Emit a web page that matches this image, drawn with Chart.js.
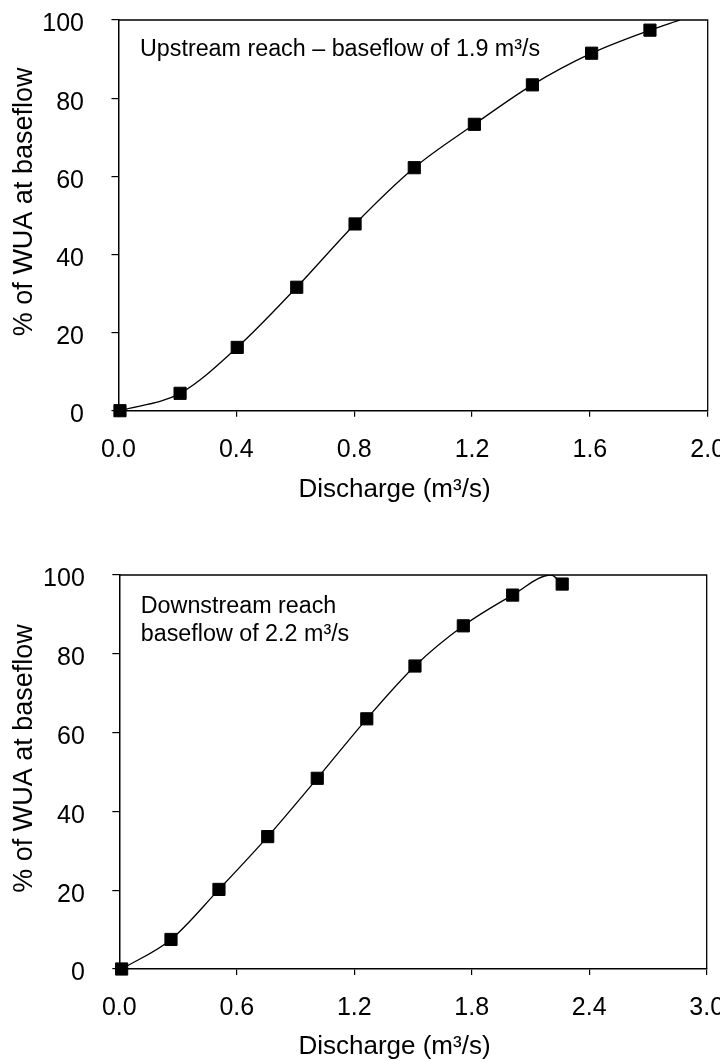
<!DOCTYPE html>
<html><head><meta charset="utf-8">
<script src="https://cdn.jsdelivr.net/npm/chart.js@4.4.0/dist/chart.umd.min.js"></script>
<style>html,body{margin:0;padding:0;background:#fff;}canvas{display:block;}</style>
</head><body>
<canvas id="up" width="720" height="555"></canvas>
<canvas id="down" width="720" height="506"></canvas>
<script>
// ---- data ----
const upMarkerX = [0.005, 0.209, 0.403, 0.605, 0.803, 1.004, 1.208, 1.405, 1.606, 1.804];
const upMarkerY = [0, 4.45, 16.2, 31.6, 47.8, 62.2, 73.3, 83.4, 91.5, 97.4];
const upCurveX  = [0.005, 0.209, 0.403, 0.605, 0.803, 1.004, 1.208, 1.405, 1.606, 1.804, 1.906];
const upCurveY  = [0, 4.45, 16.2, 31.6, 47.8, 62.2, 73.3, 83.4, 91.5, 97.4, 100];

const downMarkerX = [0.012, 0.264, 0.509, 0.758, 1.011, 1.264, 1.51, 1.757, 2.009, 2.262];
const downMarkerY = [0, 7.5, 20.2, 33.6, 48.4, 63.5, 76.9, 87.1, 94.9, 97.7];
const downCurveX  = [0.012, 0.264, 0.509, 0.758, 1.011, 1.264, 1.51, 1.757, 2.009, 2.205, 2.262];
const downCurveY  = [0, 7.5, 20.2, 33.6, 48.4, 63.5, 76.9, 87.1, 94.9, 100, 97.7];

const upXTickValues = [0, 0.4, 0.8, 1.2, 1.6, 2.0];
const upXTickLabels = ['0.0', '0.4', '0.8', '1.2', '1.6', '2.0'];
const downXTickValues = [0, 0.6, 1.2, 1.8, 2.4, 3.0];
const downXTickLabels = ['0.0', '0.6', '1.2', '1.8', '2.4', '3.0'];
const yTickValues = [0, 20, 40, 60, 80, 100];
const yTickLabels = ['0', '20', '40', '60', '80', '100'];

const xTitle = 'Discharge (m³/s)';
const yTitle = '% of WUA at baseflow';
const upNote = ['Upstream reach – baseflow of 1.9 m³/s'];
const downNote = ['Downstream reach', 'baseflow of 2.2 m³/s'];

// ---- drawing ----
const FONT = '"Liberation Sans", Arial, Helvetica, sans-serif';
Chart.defaults.font.family = FONT;
Chart.defaults.color = '#000';

const decor = {
  id: 'decor',
  beforeDatasetsDraw(chart, args, o) {
    const {ctx, chartArea: a} = chart;
    ctx.save();
    ctx.strokeStyle = '#000';
    ctx.lineWidth = 1.3;
    ctx.beginPath();
    ctx.moveTo(a.left, a.top);
    ctx.lineTo(a.right, a.top);
    ctx.lineTo(a.right, a.bottom);
    ctx.stroke();
    ctx.fillStyle = '#000';
    // x title
    ctx.font = o.xTitleSize + 'px ' + FONT;
    ctx.textAlign = 'center';
    ctx.textBaseline = 'alphabetic';
    ctx.fillText(o.xTitle, o.xTitleX, a.bottom + o.xTitleBaseline);
    // y title
    ctx.font = o.yTitleSize + 'px ' + FONT;
    ctx.textAlign = 'center';
    ctx.textBaseline = 'middle';
    ctx.translate(o.yTitleX, (a.top + a.bottom) / 2 + o.yTitleShift);
    ctx.rotate(-Math.PI / 2);
    ctx.fillText(o.yTitle, 0, 0);
    ctx.restore();
    // note
    ctx.save();
    ctx.fillStyle = '#000';
    ctx.font = o.noteSize + 'px ' + FONT;
    ctx.textAlign = 'left';
    ctx.textBaseline = 'alphabetic';
    o.note.forEach((t, i) => ctx.fillText(t, a.left + o.noteDx, a.top + o.noteBaseline + i * o.noteLine));
    ctx.restore();
  }
};

function pts(xs, ys) { return xs.map((x, i) => ({x: x, y: ys[i]})); }

function makeChart(id, c) {
  return new Chart(document.getElementById(id), {
    type: 'scatter',
    data: {
      datasets: [
        {
          data: pts(c.mx, c.my), showLine: false, pointStyle: 'rect',
          pointRadius: 8.6, pointHoverRadius: 8.6, backgroundColor: '#000', borderColor: '#000',
          borderWidth: 1, clip: false, order: 0
        },
        {
          data: pts(c.cx, c.cy), showLine: true, pointRadius: 0, pointHoverRadius: 0,
          borderColor: '#000', borderWidth: 1.3, cubicInterpolationMode: 'monotone',
          fill: false, order: 1
        }
      ]
    },
    options: {
      responsive: false, devicePixelRatio: 1, animation: false,
      events: [],
      layout: {padding: {left: 0, top: c.padTop, right: c.padRight, bottom: 0}},
      plugins: {
        legend: {display: false}, tooltip: {enabled: false},
        decor: {
          xTitle: xTitle, xTitleSize: 26, xTitleX: 394.5, xTitleBaseline: c.xTitleBaseline,
          yTitle: yTitle, yTitleSize: 27, yTitleX: 25, yTitleShift: -13.5,
          note: c.note, noteSize: 23.3, noteDx: 21.5, noteBaseline: c.noteBaseline, noteLine: 28
        }
      },
      scales: {
        x: {
          type: 'linear', min: 0, max: c.xMax,
          afterBuildTicks: s => { s.ticks = c.xTickValues.map(v => ({value: v})); },
          ticks: {
            callback: (v, i) => c.xTickLabels[i], padding: 18.5, color: '#000',
            font: {size: 25}, maxRotation: 0, autoSkip: false
          },
          grid: {drawOnChartArea: false, drawTicks: true, tickLength: 6, color: '#000', lineWidth: 1.2},
          border: {display: true, color: '#000', width: 1.5},
          title: {display: false},
          afterFit: s => { s.height = c.xAxisHeight; s.paddingLeft = 0; s.paddingRight = 0; }
        },
        y: {
          type: 'linear', min: 0, max: 100,
          afterBuildTicks: s => { s.ticks = yTickValues.map(v => ({value: v})); },
          ticks: {
            callback: (v, i) => yTickLabels[i], padding: 27.5, labelOffset: 4.5,
            color: '#000', font: {size: 25}, autoSkip: false
          },
          grid: {drawOnChartArea: false, drawTicks: true, tickLength: 7, color: '#000', lineWidth: 1.2},
          border: {display: true, color: '#000', width: 1.5},
          title: {display: false},
          afterFit: s => { s.width = c.yAxisWidth; s.paddingTop = 0; s.paddingBottom = 0; }
        }
      }
    },
    plugins: [decor]
  });
}

makeChart('up', {
  mx: upMarkerX, my: upMarkerY, cx: upCurveX, cy: upCurveY,
  xMax: 2, xTickValues: upXTickValues, xTickLabels: upXTickLabels,
  padTop: 20, padRight: 12.3, yAxisWidth: 118.5, xAxisHeight: 144.3, xTitleBaseline: 86.5,
  note: upNote, noteBaseline: 36
});
makeChart('down', {
  mx: downMarkerX, my: downMarkerY, cx: downCurveX, cy: downCurveY,
  xMax: 3, xTickValues: downXTickValues, xTickLabels: downXTickLabels,
  padTop: 20, padRight: 13.3, yAxisWidth: 119.3, xAxisHeight: 92, xTitleBaseline: 85,
  note: downNote, noteBaseline: 38.3
});
</script>
</body></html>
